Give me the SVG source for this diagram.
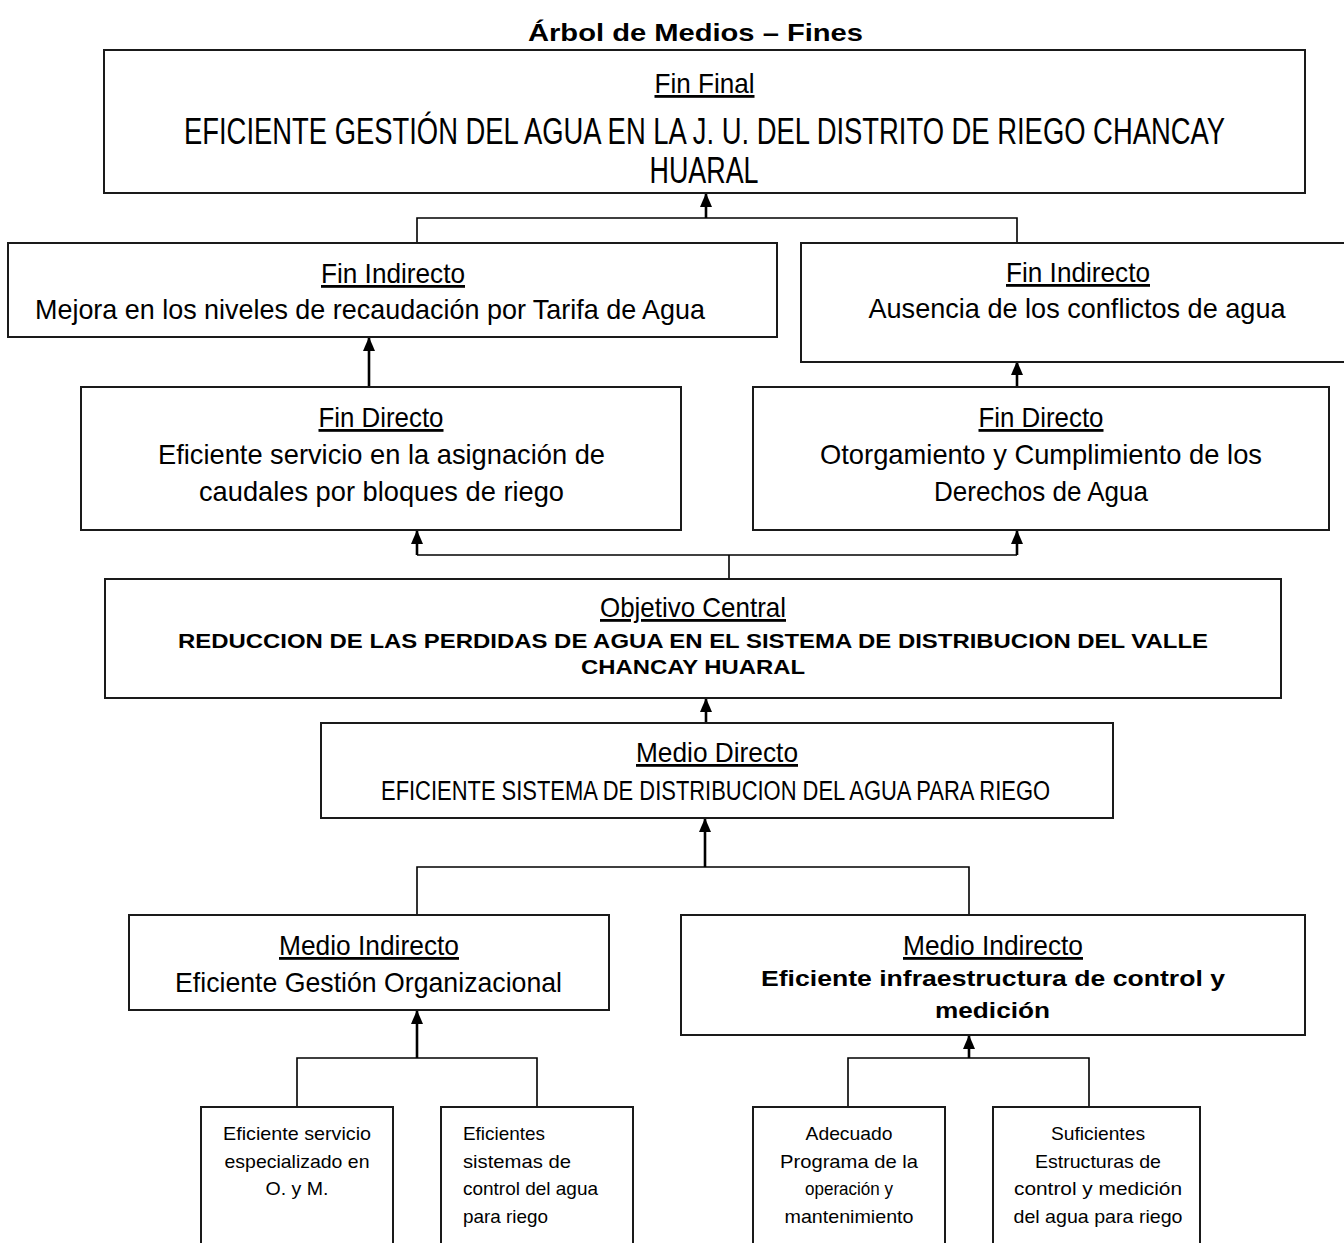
<svg xmlns="http://www.w3.org/2000/svg" width="1344" height="1243" viewBox="0 0 1344 1243">
<defs>
<style>
.box{fill:#fff;stroke:#1a1a1a;stroke-width:2}
.ln{fill:none;stroke:#000;stroke-width:1.6}
.ar{fill:none;stroke:#000;stroke-width:2.6;marker-end:url(#ah)}
text{fill:#000;text-anchor:middle}
.n{font-family:"Liberation Sans Narrow","Liberation Sans",Arial,sans-serif}
.h{font-size:28px;text-decoration:underline}
.t{font-size:28px}
.b{font-family:"Liberation Sans",Arial,sans-serif;font-weight:bold}
.s{font-family:"Liberation Sans",Arial,sans-serif;font-size:18.5px}
.l{text-anchor:start}
</style>
<marker id="ah" viewBox="0 0 14 12" refX="13" refY="6" markerWidth="14" markerHeight="12" markerUnits="userSpaceOnUse" orient="auto">
<path d="M0,0 L14,6 L0,12 z" fill="#000"/>
</marker>
</defs>
<rect width="1344" height="1243" fill="#fff"/>
<text class="b" x="695.5" y="41" font-size="24" textLength="335" lengthAdjust="spacingAndGlyphs">Árbol de Medios – Fines</text>

<g id="connectors">
<line class="ar" x1="706" y1="218" x2="706" y2="194"/>
<polyline class="ln" points="417,243 417,218 1017,218 1017,243"/>
<line class="ar" x1="369" y1="387" x2="369" y2="338"/>
<line class="ar" x1="1017" y1="387" x2="1017" y2="362"/>
<line class="ar" x1="417" y1="555" x2="417" y2="531"/>
<line class="ar" x1="1017" y1="555" x2="1017" y2="531"/>
<polyline class="ln" points="417,555 1017,555"/>
<line class="ln" x1="729" y1="555" x2="729" y2="579"/>
<line class="ar" x1="706" y1="723" x2="706" y2="699"/>
<line class="ar" x1="705" y1="867" x2="705" y2="819"/>
<polyline class="ln" points="417,915 417,867 969,867 969,915"/>
<line class="ar" x1="417" y1="1058" x2="417" y2="1011"/>
<polyline class="ln" points="297,1107 297,1058 537,1058 537,1107"/>
<line class="ar" x1="969" y1="1058" x2="969" y2="1036"/>
<polyline class="ln" points="848,1107 848,1058 1089,1058 1089,1107"/>
</g>

<g id="fin-final">
<rect class="box" x="104" y="50" width="1201" height="143"/>
<text class="n h" x="704.5" y="93" textLength="100" lengthAdjust="spacingAndGlyphs">Fin Final</text>
<text class="n" x="704.5" y="144" font-size="36" textLength="1041" lengthAdjust="spacingAndGlyphs">EFICIENTE GESTIÓN DEL AGUA EN LA J. U. DEL DISTRITO DE RIEGO CHANCAY</text>
<text class="n" x="704" y="183" font-size="36" textLength="109" lengthAdjust="spacingAndGlyphs">HUARAL</text>
</g>

<g id="fin-indirecto-1">
<rect class="box" x="8" y="243" width="769" height="94"/>
<text class="n h" x="393" y="283" textLength="144" lengthAdjust="spacingAndGlyphs">Fin Indirecto</text>
<text class="n t" x="370" y="319" textLength="670" lengthAdjust="spacingAndGlyphs">Mejora en los niveles de recaudación por Tarifa de Agua</text>
</g>

<g id="fin-indirecto-2">
<rect class="box" x="801" y="243" width="560" height="119"/>
<text class="n h" x="1078" y="282" textLength="144" lengthAdjust="spacingAndGlyphs">Fin Indirecto</text>
<text class="n t" x="1077" y="318" textLength="417" lengthAdjust="spacingAndGlyphs">Ausencia de los conflictos de agua</text>
</g>

<g id="fin-directo-1">
<rect class="box" x="81" y="387" width="600" height="143"/>
<text class="n h" x="381" y="427" textLength="125" lengthAdjust="spacingAndGlyphs">Fin Directo</text>
<text class="n t" x="381.5" y="464" textLength="447" lengthAdjust="spacingAndGlyphs">Eficiente servicio en la asignación de</text>
<text class="n t" x="381.5" y="501" textLength="365" lengthAdjust="spacingAndGlyphs">caudales por bloques de riego</text>
</g>

<g id="fin-directo-2">
<rect class="box" x="753" y="387" width="576" height="143"/>
<text class="n h" x="1041" y="427" textLength="125" lengthAdjust="spacingAndGlyphs">Fin Directo</text>
<text class="n t" x="1041" y="464" textLength="442" lengthAdjust="spacingAndGlyphs">Otorgamiento y  Cumplimiento de los</text>
<text class="n t" x="1041" y="501" textLength="214" lengthAdjust="spacingAndGlyphs">Derechos de Agua</text>
</g>

<g id="objetivo-central">
<rect class="box" x="105" y="579" width="1176" height="119"/>
<text class="n h" x="693" y="617" textLength="186" lengthAdjust="spacingAndGlyphs">Objetivo Central</text>
<text class="b" x="693" y="648" font-size="20.5" textLength="1030" lengthAdjust="spacingAndGlyphs">REDUCCION DE LAS PERDIDAS DE AGUA EN EL SISTEMA DE DISTRIBUCION DEL VALLE</text>
<text class="b" x="693" y="674" font-size="20.5" textLength="224" lengthAdjust="spacingAndGlyphs">CHANCAY HUARAL</text>
</g>

<g id="medio-directo">
<rect class="box" x="321" y="723" width="792" height="95"/>
<text class="n h" x="717" y="762" textLength="162" lengthAdjust="spacingAndGlyphs">Medio Directo</text>
<text class="n" x="715.5" y="800" font-size="27" textLength="669" lengthAdjust="spacingAndGlyphs">EFICIENTE SISTEMA DE DISTRIBUCION DEL AGUA PARA RIEGO</text>
</g>

<g id="medio-indirecto-1">
<rect class="box" x="129" y="915" width="480" height="95"/>
<text class="n h" x="369" y="955" textLength="180" lengthAdjust="spacingAndGlyphs">Medio Indirecto</text>
<text class="n t" x="368.5" y="992" textLength="387" lengthAdjust="spacingAndGlyphs">Eficiente Gestión Organizacional</text>
</g>

<g id="medio-indirecto-2">
<rect class="box" x="681" y="915" width="624" height="120"/>
<text class="n h" x="993" y="955" textLength="180" lengthAdjust="spacingAndGlyphs">Medio Indirecto</text>
<text class="b" x="993" y="986" font-size="22.5" textLength="464" lengthAdjust="spacingAndGlyphs">Eficiente infraestructura de control y</text>
<text class="b" x="992.5" y="1018" font-size="22.5" textLength="115" lengthAdjust="spacingAndGlyphs">medición</text>
</g>

<g id="accion-1">
<rect class="box" x="201" y="1107" width="192" height="160"/>
<text class="s" x="297" y="1140" textLength="148" lengthAdjust="spacingAndGlyphs">Eficiente servicio</text>
<text class="s" x="297" y="1168" textLength="145" lengthAdjust="spacingAndGlyphs">especializado en</text>
<text class="s" x="297" y="1195" textLength="63" lengthAdjust="spacingAndGlyphs">O. y M.</text>
</g>

<g id="accion-2">
<rect class="box" x="441" y="1107" width="192" height="160"/>
<text class="s l" x="463" y="1140" textLength="82" lengthAdjust="spacingAndGlyphs">Eficientes</text>
<text class="s l" x="463" y="1168" textLength="108" lengthAdjust="spacingAndGlyphs">sistemas  de</text>
<text class="s l" x="463" y="1195" textLength="135" lengthAdjust="spacingAndGlyphs">control del agua</text>
<text class="s l" x="463" y="1223" textLength="85" lengthAdjust="spacingAndGlyphs">para riego</text>
</g>

<g id="accion-3">
<rect class="box" x="753" y="1107" width="192" height="160"/>
<text class="s" x="849" y="1140" textLength="87" lengthAdjust="spacingAndGlyphs">Adecuado</text>
<text class="s" x="849" y="1168" textLength="138" lengthAdjust="spacingAndGlyphs">Programa  de la</text>
<text class="s" x="849" y="1195" textLength="88" lengthAdjust="spacingAndGlyphs">operación y</text>
<text class="s" x="849" y="1223" textLength="129" lengthAdjust="spacingAndGlyphs">mantenimiento</text>
</g>

<g id="accion-4">
<rect class="box" x="993" y="1107" width="207" height="160"/>
<text class="s" x="1098" y="1140" textLength="94" lengthAdjust="spacingAndGlyphs">Suficientes</text>
<text class="s" x="1098" y="1168" textLength="126" lengthAdjust="spacingAndGlyphs">Estructuras de</text>
<text class="s" x="1098" y="1195" textLength="168" lengthAdjust="spacingAndGlyphs">control y medición</text>
<text class="s" x="1098" y="1223" textLength="169" lengthAdjust="spacingAndGlyphs">del agua para riego</text>
</g>
</svg>
